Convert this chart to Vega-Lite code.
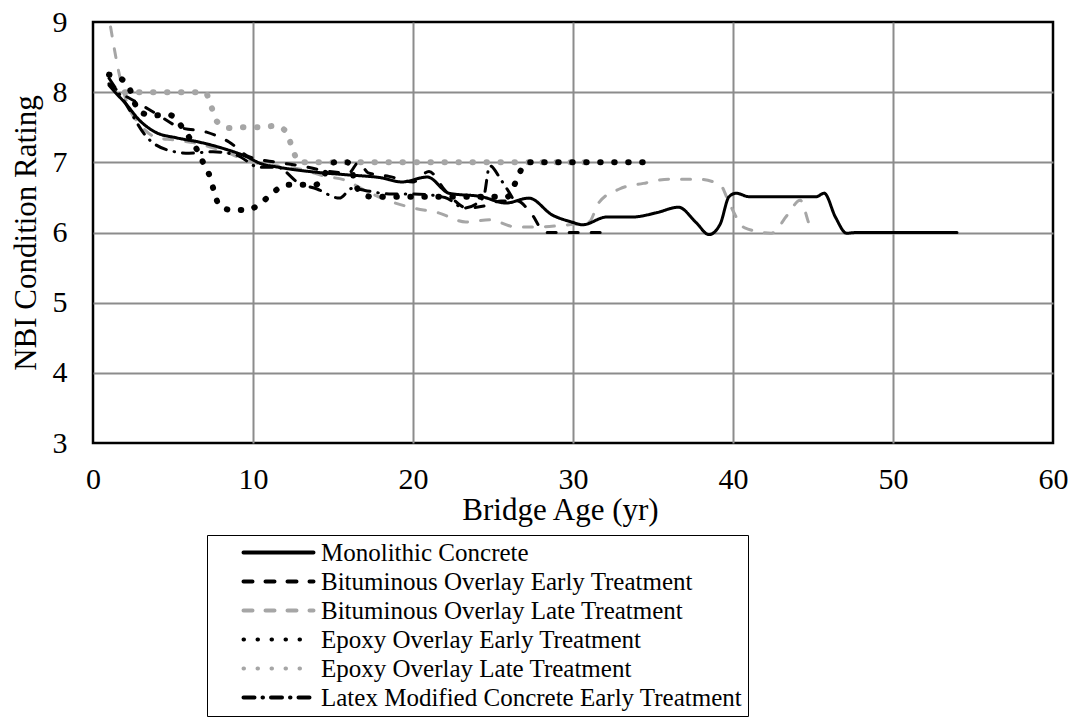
{
  "$schema": "https://vega.github.io/schema/vega-lite/v6.json",
  "width": 960,
  "height": 421,
  "autosize": {"type": "none"},
  "padding": {"left": 93, "top": 22, "right": 22, "bottom": 284},
  "background": "white",
  "config": {
    "font": "Liberation Serif",
    "view": {"stroke": "black", "strokeWidth": 2.5}
  },
  "data": {
    "values": [
      {"series": "Epoxy Overlay Late Treatment", "age": 2, "rating": 8.0},
      {"series": "Epoxy Overlay Late Treatment", "age": 3.3, "rating": 8.0},
      {"series": "Epoxy Overlay Late Treatment", "age": 5, "rating": 8.0},
      {"series": "Epoxy Overlay Late Treatment", "age": 7, "rating": 8.0},
      {"series": "Epoxy Overlay Late Treatment", "age": 7.4, "rating": 7.79},
      {"series": "Epoxy Overlay Late Treatment", "age": 7.75, "rating": 7.58},
      {"series": "Epoxy Overlay Late Treatment", "age": 8.5, "rating": 7.49},
      {"series": "Epoxy Overlay Late Treatment", "age": 9.4, "rating": 7.5},
      {"series": "Epoxy Overlay Late Treatment", "age": 10.4, "rating": 7.5},
      {"series": "Epoxy Overlay Late Treatment", "age": 11.4, "rating": 7.52},
      {"series": "Epoxy Overlay Late Treatment", "age": 12.1, "rating": 7.43},
      {"series": "Epoxy Overlay Late Treatment", "age": 12.4, "rating": 7.24},
      {"series": "Epoxy Overlay Late Treatment", "age": 12.9, "rating": 7.0},
      {"series": "Epoxy Overlay Late Treatment", "age": 15, "rating": 7.0},
      {"series": "Epoxy Overlay Late Treatment", "age": 20, "rating": 7.0},
      {"series": "Epoxy Overlay Late Treatment", "age": 25, "rating": 7.0},
      {"series": "Epoxy Overlay Late Treatment", "age": 31, "rating": 7.0},

      {"series": "Bituminous Overlay Late Treatment", "age": 1.1, "rating": 8.93},
      {"series": "Bituminous Overlay Late Treatment", "age": 1.6, "rating": 8.3},
      {"series": "Bituminous Overlay Late Treatment", "age": 2.2, "rating": 7.8},
      {"series": "Bituminous Overlay Late Treatment", "age": 2.9, "rating": 7.55},
      {"series": "Bituminous Overlay Late Treatment", "age": 4, "rating": 7.35},
      {"series": "Bituminous Overlay Late Treatment", "age": 5, "rating": 7.32},
      {"series": "Bituminous Overlay Late Treatment", "age": 6.5, "rating": 7.27},
      {"series": "Bituminous Overlay Late Treatment", "age": 8, "rating": 7.17},
      {"series": "Bituminous Overlay Late Treatment", "age": 10, "rating": 7.0},
      {"series": "Bituminous Overlay Late Treatment", "age": 11.5, "rating": 6.95},
      {"series": "Bituminous Overlay Late Treatment", "age": 13, "rating": 6.9},
      {"series": "Bituminous Overlay Late Treatment", "age": 14.5, "rating": 6.8},
      {"series": "Bituminous Overlay Late Treatment", "age": 15.7, "rating": 6.75},
      {"series": "Bituminous Overlay Late Treatment", "age": 17, "rating": 6.6},
      {"series": "Bituminous Overlay Late Treatment", "age": 18.5, "rating": 6.45},
      {"series": "Bituminous Overlay Late Treatment", "age": 20, "rating": 6.35},
      {"series": "Bituminous Overlay Late Treatment", "age": 21.6, "rating": 6.28},
      {"series": "Bituminous Overlay Late Treatment", "age": 23.3, "rating": 6.15},
      {"series": "Bituminous Overlay Late Treatment", "age": 24.8, "rating": 6.18},
      {"series": "Bituminous Overlay Late Treatment", "age": 26.4, "rating": 6.08},
      {"series": "Bituminous Overlay Late Treatment", "age": 28, "rating": 6.08},
      {"series": "Bituminous Overlay Late Treatment", "age": 29.2, "rating": 6.1},
      {"series": "Bituminous Overlay Late Treatment", "age": 31, "rating": 6.15},
      {"series": "Bituminous Overlay Late Treatment", "age": 31.6, "rating": 6.42},
      {"series": "Bituminous Overlay Late Treatment", "age": 32.9, "rating": 6.62},
      {"series": "Bituminous Overlay Late Treatment", "age": 34.4, "rating": 6.7},
      {"series": "Bituminous Overlay Late Treatment", "age": 36, "rating": 6.76},
      {"series": "Bituminous Overlay Late Treatment", "age": 37.8, "rating": 6.76},
      {"series": "Bituminous Overlay Late Treatment", "age": 39.2, "rating": 6.68},
      {"series": "Bituminous Overlay Late Treatment", "age": 39.8, "rating": 6.4},
      {"series": "Bituminous Overlay Late Treatment", "age": 40.7, "rating": 6.07},
      {"series": "Bituminous Overlay Late Treatment", "age": 42.4, "rating": 5.99},
      {"series": "Bituminous Overlay Late Treatment", "age": 43.4, "rating": 6.25},
      {"series": "Bituminous Overlay Late Treatment", "age": 44.2, "rating": 6.46},
      {"series": "Bituminous Overlay Late Treatment", "age": 44.8, "rating": 6.1},
      {"series": "Bituminous Overlay Late Treatment", "age": 45.1, "rating": 6.0},

      {"series": "Monolithic Concrete", "age": 1, "rating": 8.1},
      {"series": "Monolithic Concrete", "age": 1.5, "rating": 7.97},
      {"series": "Monolithic Concrete", "age": 2, "rating": 7.85},
      {"series": "Monolithic Concrete", "age": 2.9, "rating": 7.6},
      {"series": "Monolithic Concrete", "age": 3.9, "rating": 7.43},
      {"series": "Monolithic Concrete", "age": 5.2, "rating": 7.35},
      {"series": "Monolithic Concrete", "age": 6.6, "rating": 7.29},
      {"series": "Monolithic Concrete", "age": 8.1, "rating": 7.2},
      {"series": "Monolithic Concrete", "age": 9.6, "rating": 7.08},
      {"series": "Monolithic Concrete", "age": 10.5, "rating": 6.98},
      {"series": "Monolithic Concrete", "age": 11.6, "rating": 6.93},
      {"series": "Monolithic Concrete", "age": 13.9, "rating": 6.86},
      {"series": "Monolithic Concrete", "age": 16, "rating": 6.82},
      {"series": "Monolithic Concrete", "age": 18, "rating": 6.78},
      {"series": "Monolithic Concrete", "age": 19.3, "rating": 6.72},
      {"series": "Monolithic Concrete", "age": 20.9, "rating": 6.79},
      {"series": "Monolithic Concrete", "age": 22.25, "rating": 6.56},
      {"series": "Monolithic Concrete", "age": 24.3, "rating": 6.51},
      {"series": "Monolithic Concrete", "age": 25.8, "rating": 6.42},
      {"series": "Monolithic Concrete", "age": 27.25, "rating": 6.49},
      {"series": "Monolithic Concrete", "age": 28.7, "rating": 6.25},
      {"series": "Monolithic Concrete", "age": 29.9, "rating": 6.15},
      {"series": "Monolithic Concrete", "age": 30.6, "rating": 6.11},
      {"series": "Monolithic Concrete", "age": 32.1, "rating": 6.22},
      {"series": "Monolithic Concrete", "age": 33.7, "rating": 6.22},
      {"series": "Monolithic Concrete", "age": 35.2, "rating": 6.28},
      {"series": "Monolithic Concrete", "age": 36.6, "rating": 6.36},
      {"series": "Monolithic Concrete", "age": 37.7, "rating": 6.14},
      {"series": "Monolithic Concrete", "age": 38.5, "rating": 5.97},
      {"series": "Monolithic Concrete", "age": 39.2, "rating": 6.12},
      {"series": "Monolithic Concrete", "age": 39.75, "rating": 6.51},
      {"series": "Monolithic Concrete", "age": 40.2, "rating": 6.56},
      {"series": "Monolithic Concrete", "age": 41, "rating": 6.51},
      {"series": "Monolithic Concrete", "age": 45.2, "rating": 6.51},
      {"series": "Monolithic Concrete", "age": 45.7, "rating": 6.56},
      {"series": "Monolithic Concrete", "age": 46.4, "rating": 6.22},
      {"series": "Monolithic Concrete", "age": 47.1, "rating": 5.99},
      {"series": "Monolithic Concrete", "age": 47.7, "rating": 6.0},
      {"series": "Monolithic Concrete", "age": 54, "rating": 6.0},

      {"series": "Bituminous Overlay Early Treatment", "age": 1, "rating": 8.12},
      {"series": "Bituminous Overlay Early Treatment", "age": 2, "rating": 7.95},
      {"series": "Bituminous Overlay Early Treatment", "age": 2.7, "rating": 7.86},
      {"series": "Bituminous Overlay Early Treatment", "age": 3.9, "rating": 7.7},
      {"series": "Bituminous Overlay Early Treatment", "age": 5.4, "rating": 7.5},
      {"series": "Bituminous Overlay Early Treatment", "age": 7.1, "rating": 7.43},
      {"series": "Bituminous Overlay Early Treatment", "age": 8.5, "rating": 7.29},
      {"series": "Bituminous Overlay Early Treatment", "age": 9.75, "rating": 7.08},
      {"series": "Bituminous Overlay Early Treatment", "age": 11.5, "rating": 7.0},
      {"series": "Bituminous Overlay Early Treatment", "age": 13, "rating": 6.95},
      {"series": "Bituminous Overlay Early Treatment", "age": 14.5, "rating": 6.88},
      {"series": "Bituminous Overlay Early Treatment", "age": 16, "rating": 6.85},
      {"series": "Bituminous Overlay Early Treatment", "age": 16.6, "rating": 7.0},
      {"series": "Bituminous Overlay Early Treatment", "age": 17.2, "rating": 6.85},
      {"series": "Bituminous Overlay Early Treatment", "age": 18.5, "rating": 6.8},
      {"series": "Bituminous Overlay Early Treatment", "age": 20, "rating": 6.72},
      {"series": "Bituminous Overlay Early Treatment", "age": 21, "rating": 6.87},
      {"series": "Bituminous Overlay Early Treatment", "age": 22, "rating": 6.6},
      {"series": "Bituminous Overlay Early Treatment", "age": 23.4, "rating": 6.35},
      {"series": "Bituminous Overlay Early Treatment", "age": 24.5, "rating": 6.38},
      {"series": "Bituminous Overlay Early Treatment", "age": 25.5, "rating": 6.45},
      {"series": "Bituminous Overlay Early Treatment", "age": 26.5, "rating": 6.45},
      {"series": "Bituminous Overlay Early Treatment", "age": 27.3, "rating": 6.3},
      {"series": "Bituminous Overlay Early Treatment", "age": 28.3, "rating": 6.0},
      {"series": "Bituminous Overlay Early Treatment", "age": 30, "rating": 6.0},
      {"series": "Bituminous Overlay Early Treatment", "age": 31.7, "rating": 6.0},

      {"series": "Latex Modified Concrete Early Treatment", "age": 1, "rating": 8.2},
      {"series": "Latex Modified Concrete Early Treatment", "age": 2, "rating": 7.85},
      {"series": "Latex Modified Concrete Early Treatment", "age": 3.4, "rating": 7.35},
      {"series": "Latex Modified Concrete Early Treatment", "age": 4.6, "rating": 7.18},
      {"series": "Latex Modified Concrete Early Treatment", "age": 6, "rating": 7.13},
      {"series": "Latex Modified Concrete Early Treatment", "age": 7.5, "rating": 7.15},
      {"series": "Latex Modified Concrete Early Treatment", "age": 9, "rating": 7.1},
      {"series": "Latex Modified Concrete Early Treatment", "age": 10.4, "rating": 6.93},
      {"series": "Latex Modified Concrete Early Treatment", "age": 11.5, "rating": 6.93},
      {"series": "Latex Modified Concrete Early Treatment", "age": 12.9, "rating": 6.7},
      {"series": "Latex Modified Concrete Early Treatment", "age": 14, "rating": 6.62},
      {"series": "Latex Modified Concrete Early Treatment", "age": 15.4, "rating": 6.49},
      {"series": "Latex Modified Concrete Early Treatment", "age": 16.2, "rating": 6.63},
      {"series": "Latex Modified Concrete Early Treatment", "age": 17, "rating": 6.6},
      {"series": "Latex Modified Concrete Early Treatment", "age": 18.5, "rating": 6.55},
      {"series": "Latex Modified Concrete Early Treatment", "age": 20, "rating": 6.55},
      {"series": "Latex Modified Concrete Early Treatment", "age": 22, "rating": 6.5},
      {"series": "Latex Modified Concrete Early Treatment", "age": 23.2, "rating": 6.35},
      {"series": "Latex Modified Concrete Early Treatment", "age": 24.4, "rating": 6.5},
      {"series": "Latex Modified Concrete Early Treatment", "age": 24.8, "rating": 6.95},
      {"series": "Latex Modified Concrete Early Treatment", "age": 25.5, "rating": 6.75},
      {"series": "Latex Modified Concrete Early Treatment", "age": 26.2, "rating": 6.5},

      {"series": "Epoxy Overlay Early Treatment", "age": 1, "rating": 8.25},
      {"series": "Epoxy Overlay Early Treatment", "age": 1.5, "rating": 8.22},
      {"series": "Epoxy Overlay Early Treatment", "age": 2.2, "rating": 8.09},
      {"series": "Epoxy Overlay Early Treatment", "age": 2.9, "rating": 7.72},
      {"series": "Epoxy Overlay Early Treatment", "age": 3.8, "rating": 7.67},
      {"series": "Epoxy Overlay Early Treatment", "age": 4.75, "rating": 7.68},
      {"series": "Epoxy Overlay Early Treatment", "age": 5.4, "rating": 7.55},
      {"series": "Epoxy Overlay Early Treatment", "age": 6, "rating": 7.36},
      {"series": "Epoxy Overlay Early Treatment", "age": 6.5, "rating": 7.18},
      {"series": "Epoxy Overlay Early Treatment", "age": 6.9, "rating": 6.99},
      {"series": "Epoxy Overlay Early Treatment", "age": 7.3, "rating": 6.8},
      {"series": "Epoxy Overlay Early Treatment", "age": 7.6, "rating": 6.56},
      {"series": "Epoxy Overlay Early Treatment", "age": 7.9, "rating": 6.38},
      {"series": "Epoxy Overlay Early Treatment", "age": 8.7, "rating": 6.32},
      {"series": "Epoxy Overlay Early Treatment", "age": 9.6, "rating": 6.32},
      {"series": "Epoxy Overlay Early Treatment", "age": 10.5, "rating": 6.42},
      {"series": "Epoxy Overlay Early Treatment", "age": 11.2, "rating": 6.56},
      {"series": "Epoxy Overlay Early Treatment", "age": 12.1, "rating": 6.68},
      {"series": "Epoxy Overlay Early Treatment", "age": 13, "rating": 6.68},
      {"series": "Epoxy Overlay Early Treatment", "age": 13.9, "rating": 6.68},
      {"series": "Epoxy Overlay Early Treatment", "age": 15.1, "rating": 7.0},
      {"series": "Epoxy Overlay Early Treatment", "age": 15.9, "rating": 7.0},
      {"series": "Epoxy Overlay Early Treatment", "age": 16.6, "rating": 6.6},
      {"series": "Epoxy Overlay Early Treatment", "age": 17.4, "rating": 6.51},
      {"series": "Epoxy Overlay Early Treatment", "age": 18.3, "rating": 6.51},
      {"series": "Epoxy Overlay Early Treatment", "age": 20.2, "rating": 6.51},
      {"series": "Epoxy Overlay Early Treatment", "age": 22.1, "rating": 6.51},
      {"series": "Epoxy Overlay Early Treatment", "age": 24.1, "rating": 6.51},
      {"series": "Epoxy Overlay Early Treatment", "age": 25.9, "rating": 6.51},
      {"series": "Epoxy Overlay Early Treatment", "age": 26.4, "rating": 6.71},
      {"series": "Epoxy Overlay Early Treatment", "age": 26.75, "rating": 6.89},
      {"series": "Epoxy Overlay Early Treatment", "age": 27.25, "rating": 7.0},
      {"series": "Epoxy Overlay Early Treatment", "age": 28, "rating": 7.0},
      {"series": "Epoxy Overlay Early Treatment", "age": 30, "rating": 7.0},
      {"series": "Epoxy Overlay Early Treatment", "age": 32, "rating": 7.0},
      {"series": "Epoxy Overlay Early Treatment", "age": 35, "rating": 7.0}
    ]
  },
  "encoding": {
    "x": {
      "field": "age",
      "type": "quantitative",
      "scale": {"domain": [0, 60], "nice": false, "zero": false},
      "axis": {
        "title": "Bridge Age (yr)",
        "values": [0, 10, 20, 30, 40, 50, 60],
        "domain": false,
        "ticks": false,
        "tickSize": 0,
        "grid": true,
        "gridColor": "#8c8c8c",
        "gridWidth": 2,
        "gridOpacity": {"condition": {"test": "datum.value == 0 || datum.value == 60", "value": 0}, "value": 1},
        "labelFont": "Liberation Serif",
        "labelFontSize": 30,
        "labelColor": "black",
        "labelPadding": 21,
        "labelFlush": false,
        "labelOverlap": false,
        "titleFont": "Liberation Serif",
        "titleFontSize": 31,
        "titleFontWeight": "normal",
        "titleColor": "black",
        "titlePadding": 1,
        "titleX": 467
      }
    },
    "y": {
      "field": "rating",
      "type": "quantitative",
      "scale": {"domain": [3, 9], "nice": false, "zero": false},
      "axis": {
        "title": "NBI Condition Rating",
        "values": [3, 4, 5, 6, 7, 8, 9],
        "domain": false,
        "ticks": false,
        "tickSize": 0,
        "grid": true,
        "gridColor": "#8c8c8c",
        "gridWidth": 2,
        "gridOpacity": {"condition": {"test": "datum.value == 3 || datum.value == 9", "value": 0}, "value": 1},
        "labelFont": "Liberation Serif",
        "labelFontSize": 30,
        "labelColor": "black",
        "labelPadding": 26,
        "labelFlush": false,
        "labelOverlap": false,
        "titleFont": "Liberation Serif",
        "titleFontSize": 31,
        "titleFontWeight": "normal",
        "titleColor": "black",
        "titlePadding": 10
      }
    },
    "color": {
      "field": "series",
      "type": "nominal",
      "scale": {
        "domain": ["Monolithic Concrete", "Bituminous Overlay Early Treatment", "Bituminous Overlay Late Treatment", "Epoxy Overlay Early Treatment", "Epoxy Overlay Late Treatment", "Latex Modified Concrete Early Treatment"],
        "range": ["#000000", "#000000", "#a6a6a6", "#000000", "#a6a6a6", "#000000"]
      },
      "legend": {
        "title": null,
        "orient": "none",
        "legendX": 114,
        "legendY": 513,
        "direction": "vertical",
        "padding": 5,
        "strokeColor": "black",
        "fillColor": "white",
        "symbolType": "M1.9,0L8.9,0",
        "symbolSize": 400,
        "symbolStrokeWidth": 4,
        "labelOffset": 84,
        "labelFont": "Liberation Serif",
        "labelFontSize": 25,
        "labelColor": "black",
        "labelLimit": 0,
        "rowPadding": 3,
        "encode": {"symbols": {"update": {"strokeCap": {"value": "round"}}}}
      }
    },
    "strokeDash": {
      "field": "series",
      "type": "nominal",
      "scale": {
        "domain": ["Monolithic Concrete", "Bituminous Overlay Early Treatment", "Bituminous Overlay Late Treatment", "Epoxy Overlay Early Treatment", "Epoxy Overlay Late Treatment", "Latex Modified Concrete Early Treatment"],
        "range": [[1, 0], [9, 13], [9, 13], [0.5, 13.5], [0.5, 13.5], [11, 8, 0.5, 8]]
      }
    }
  },
  "layer": [
    {
      "transform": [{"filter": "indexof(datum.series, 'Epoxy') < 0"}],
      "mark": {"type": "line", "interpolate": "monotone", "strokeCap": "round", "strokeJoin": "round", "strokeWidth": 3}
    },
    {
      "transform": [{"filter": "indexof(datum.series, 'Epoxy') >= 0"}],
      "mark": {"type": "line", "interpolate": "monotone", "strokeCap": "round", "strokeJoin": "round", "strokeWidth": 6}
    }
  ]
}
